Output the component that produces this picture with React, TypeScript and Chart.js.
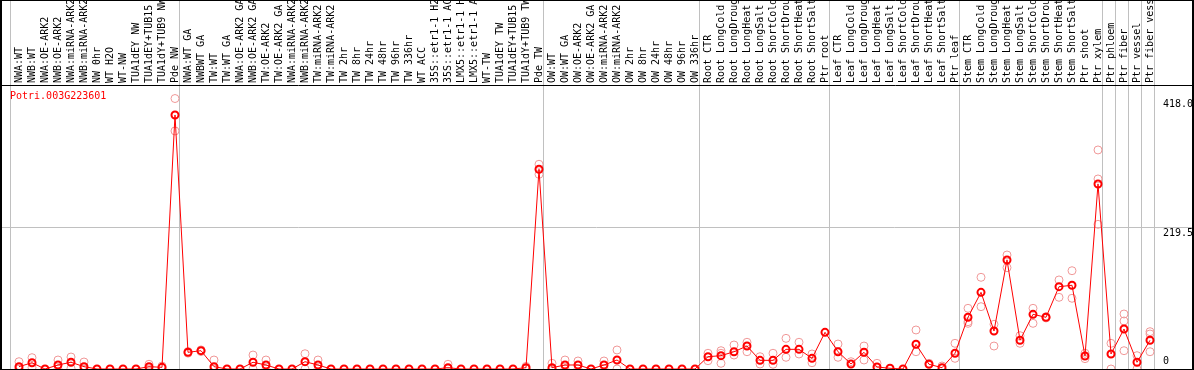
import React, { useEffect, useRef } from 'react';
import { Chart, registerables } from 'chart.js';

Chart.register(...registerables);

const geneId = 'Potri.003G223601';

const categories = [
  'NWA:WT', 'NWB:WT', 'NWA:OE-ARK2', 'NWB:OE-ARK2', 'NWA:miRNA-ARK2', 'NWB:miRNA-ARK2',
  'NW 0hr', 'WT H2O', 'WT-NW', 'TUA1dEY NW', 'TUA1dEY+TUB15 NW', 'TUA1dY+TUB9 NW', 'Pde NW',
  'NWA:WT GA', 'NWBWT GA', 'TW:WT', 'TW:WT GA', 'NWA:OE-ARK2 GA', 'NWB:OE-ARK2 GA',
  'TW:OE-ARK2', 'TW:OE-ARK2 GA', 'NWA:miRNA-ARK2', 'NWB:miRNA-ARK2', 'TW:miRNA-ARK2',
  'TW:miRNA-ARK2', 'TW 2hr', 'TW 8hr', 'TW 24hr', 'TW 48hr', 'TW 96hr', 'TW 336hr',
  'WT ACC', '35S::etr1-1 H2O', '35S::etr1-1 ACC', 'LMX5::etr1-1 H2O', 'LMX5::etr1-1 ACC',
  'WT-TW', 'TUA1dEY TW', 'TUA1dEY+TUB15 TW', 'TUA1dY+TUB9 TW', 'Pde TW',
  'OW:WT', 'OW:WT GA', 'OW:OE-ARK2', 'OW:OE-ARK2 GA', 'OW:miRNA-ARK2', 'OW:miRNA-ARK2',
  'OW 2hr', 'OW 8hr', 'OW 24hr', 'OW 48hr', 'OW 96hr', 'OW 336hr',
  'Root CTR', 'Root LongCold', 'Root LongDrought', 'Root LongHeat', 'Root LongSalt',
  'Root ShortCold', 'Root ShortDrought', 'Root ShortHeat', 'Root ShortSalt', 'Ptr root',
  'Leaf CTR', 'Leaf LongCold', 'Leaf LongDrought', 'Leaf LongHeat', 'Leaf LongSalt',
  'Leaf ShortCold', 'Leaf ShortDrought', 'Leaf ShortHeat', 'Leaf ShortSalt', 'Ptr leaf',
  'Stem CTR', 'Stem LongCold', 'Stem LongDrought', 'Stem LongHeat', 'Stem LongSalt',
  'Stem ShortCold', 'Stem ShortDrought', 'Stem ShortHeat', 'Stem ShortSalt', 'Ptr shoot',
  'Ptr xylem', 'Ptr phloem', 'Ptr fiber', 'Ptr vessel', 'Ptr fiber vessel',
];

const means = [
  3.6, 9.7, 0, 6.2, 10.4, 3.6, 0, 0, 0, 0, 3.6, 2.6, 392.6,
  25.8, 28.3, 3.6, 0, 0, 10.4, 6.2, 0, 0, 11.3, 6.2, 0, 0, 0, 0, 0, 0, 0, 0, 0, 2.0, 0, 0, 0, 0, 0, 2.0, 308.7,
  2.0, 6.2, 6.2, 0, 6.2, 13.9, 0, 0, 0, 0, 0, 0,
  19.0, 20.6, 26.7, 35.5, 13.4, 13.4, 30.4, 30.4, 16.5, 56.7,
  26.7, 7.7, 25.8, 3.1, 1.1, 0, 38.2, 7.3, 2.0, 24.3,
  79.9, 118.5, 58.7, 168.5, 44.4, 84.5, 79.9, 127.2, 129.4, 20.1, 285.9,
  23.2, 61.8, 10.4, 44.4,
];

const rep1 = [
  11.3, 17.5, null, 13.9, 18.5, 10.8, null, null, null, null, 7.3, 4.5, 418.0,
  27.0, 29.5, 13.9, null, null, 21.6, 13.9, null, null, 23.6, 13.9, null, null, null, null, null, null, null, null, null, 7.3, null, null, null, null, null, 4.0, 316.4,
  8.8, 13.9, 12.4, null, 12.4, 29.4, null, null, null, null, null, null,
  24.3, 28.3, 37.1, 41.3, 19.0, 24.3, 47.4, 41.3, 23.2, null,
  38.6, 11.3, 35.5, 8.8, null, null, 60.3, 8.8, 4.6, 39.7,
  93.8, 141.7, 69.1, 176.2, 51.5, 93.8, 80.9, 137.6, 151.9, 24.3, 338.5,
  39.7, 85.0, 20.6, 57.7,
];

const rep2 = [
  0, 2.0, null, 0, 1.0, 0, null, null, null, null, 0, 1.5, 367.9,
  24.5, 27.0, 0, null, null, 0, 0, null, null, 0, 0, null, null, null, null, null, null, null, null, null, 0, null, null, null, null, null, 0, 300.9,
  0, 0, 0, null, 0, 0, null, null, null, null, null, null,
  12.8, 8.8, 21.6, 26.7, 7.7, 7.3, 18.1, 23.2, 9.7, null,
  18.1, null, 13.9, null, null, null, 26.7, null, null, 16.5,
  73.1, 96.3, 35.5, 156.6, 39.7, 70.6, 78.9, 110.8, 109.3, 16.0, 293.7,
  0, 74.2, 0, 54.1,
];

const rep3 = [
  0, null, null, null, null, null, null, null, null, null, null, null, null,
  null, null, null, null, null, null, null, null, null, null, null, null, null, null, null, null, null, null, null, null, null, null, null, null, null, null, null, null,
  null, null, null, null, null, null, null, null, null, null, null, null,
  null, 24.3, null, null, null, null, null, null, null, null,
  null, null, null, null, null, null, null, null, null, null,
  70.6, null, null, null, null, null, null, null, null, null, 223.6,
  null, 28.3, null, 26.7,
];

const groupEnds = [-1, 12, 40, 52, 62, 72, 83, 84, 85, 86, 87];
const yTickValues = [0, 219.5, 418.0];
const yTickLabels = ['0', '219.5', '418.0'];
const gridValues = [219.5];
const yMin = 0;
const yMax = 438.9;

const FONT_FAMILY = '"DejaVu Sans Mono", monospace';
const FONT = '10px ' + FONT_FAMILY;

export default function App() {
  const ref = useRef<HTMLCanvasElement>(null);

  useEffect(() => {
    document.body.style.margin = '0';
    const canvas = ref.current;
    if (!canvas) return;

    const toPts = (arr: (number | null)[]) =>
      arr.map((v, i) => (v == null ? null : { x: i, y: v })).filter((p) => p !== null) as { x: number; y: number }[];

    const framePlugin = {
      id: 'frame',
      beforeDatasetsDraw(chart: any) {
        const { ctx, chartArea, scales } = chart;
        const xs = scales.x;
        const ys = scales.y;
        ctx.save();
        ctx.strokeStyle = '#c0c0c0';
        ctx.lineWidth = 1;
        ctx.beginPath();
        for (const g of groupEnds) {
          const px = Math.floor(xs.getPixelForValue(g + 0.38)) + 0.5;
          ctx.moveTo(px, 0);
          ctx.lineTo(px, chartArea.bottom);
        }
        for (const gv of gridValues) {
          const gy = Math.round(ys.getPixelForValue(gv)) + 0.5;
          ctx.moveTo(chartArea.left, gy);
          ctx.lineTo(chartArea.right, gy);
        }
        ctx.stroke();

        // category labels above the plot, reading upwards
        ctx.font = FONT;
        ctx.fillStyle = '#000000';
        ctx.textAlign = 'left';
        ctx.textBaseline = 'middle';
        categories.forEach((label, i) => {
          const px = xs.getPixelForValue(i);
          ctx.save();
          ctx.translate(px + 0.5, chartArea.top - 2);
          ctx.rotate(-Math.PI / 2);
          ctx.fillText(label, 0, 0);
          ctx.restore();
        });
        ctx.restore();
      },
      afterDraw(chart: any) {
        const { ctx, chartArea, scales, width } = chart;
        const ys = scales.y;
        ctx.save();
        ctx.strokeStyle = '#000000';
        ctx.lineWidth = 1;
        ctx.beginPath();
        ctx.moveTo(0, 0.5);
        ctx.lineTo(width, 0.5);
        ctx.moveTo(0, chartArea.top + 0.5);
        ctx.lineTo(width, chartArea.top + 0.5);
        ctx.moveTo(0, chartArea.bottom + 0.5);
        ctx.lineTo(width, chartArea.bottom + 0.5);
        ctx.stroke();
        ctx.lineWidth = 2;
        ctx.beginPath();
        ctx.moveTo(1, 0);
        ctx.lineTo(1, chartArea.bottom + 1);
        ctx.moveTo(chartArea.right + 1, 0);
        ctx.lineTo(chartArea.right + 1, chartArea.bottom + 1);
        ctx.stroke();

        ctx.font = FONT;
        ctx.textAlign = 'left';
        ctx.textBaseline = 'top';
        ctx.fillStyle = '#000000';
        const lx = chartArea.right - 29;
        yTickValues.forEach((v, i) => {
          const py = ys.getPixelForValue(v);
          const ty = Math.min(py + 1, chartArea.bottom - 13);
          ctx.fillText(yTickLabels[i], lx, ty);
        });

        ctx.fillStyle = '#ff0000';
        ctx.fillText(geneId, chartArea.left + 9, chartArea.top + 6);
        ctx.restore();
      },
    };

    const repStyle = {
      type: 'line' as const,
      showLine: false,
      pointRadius: 4,
      pointBorderWidth: 1,
      pointBorderColor: '#f09898',
      pointBackgroundColor: 'rgba(0,0,0,0)',
      pointHoverRadius: 4,
      order: 2,
    };

    const chart = new Chart(canvas, {
      type: 'line',
      data: {
        datasets: [
          { ...repStyle, label: 'rep1', data: toPts(rep1) },
          { ...repStyle, label: 'rep2', data: toPts(rep2) },
          { ...repStyle, label: 'rep3', data: toPts(rep3) },
          {
            type: 'line',
            label: geneId,
            data: toPts(means),
            borderColor: '#ff0000',
            borderWidth: 1,
            tension: 0,
            pointRadius: 3.5,
            pointBorderWidth: 2,
            pointBorderColor: '#ff0000',
            pointBackgroundColor: 'rgba(0,0,0,0)',
            order: 0,
          },
        ],
      } as any,
      options: {
        responsive: false,
        maintainAspectRatio: false,
        devicePixelRatio: 1,
        animation: false,
        events: [],
        layout: { autoPadding: false, padding: { left: 1, right: 2, top: 85, bottom: 1 } },
        plugins: { legend: { display: false }, tooltip: { enabled: false }, title: { display: false } },
        scales: {
          x: {
            type: 'linear',
            display: false,
            min: -18 / 13,
            max: -18 / 13 + 1191 / 13,
          },
          y: {
            type: 'linear',
            display: false,
            min: yMin,
            max: yMax,
          },
        },
      } as any,
      plugins: [framePlugin],
    });

    return () => chart.destroy();
  }, []);

  return <canvas ref={ref} width={1194} height={370} style={{ display: 'block' }} />;
}
